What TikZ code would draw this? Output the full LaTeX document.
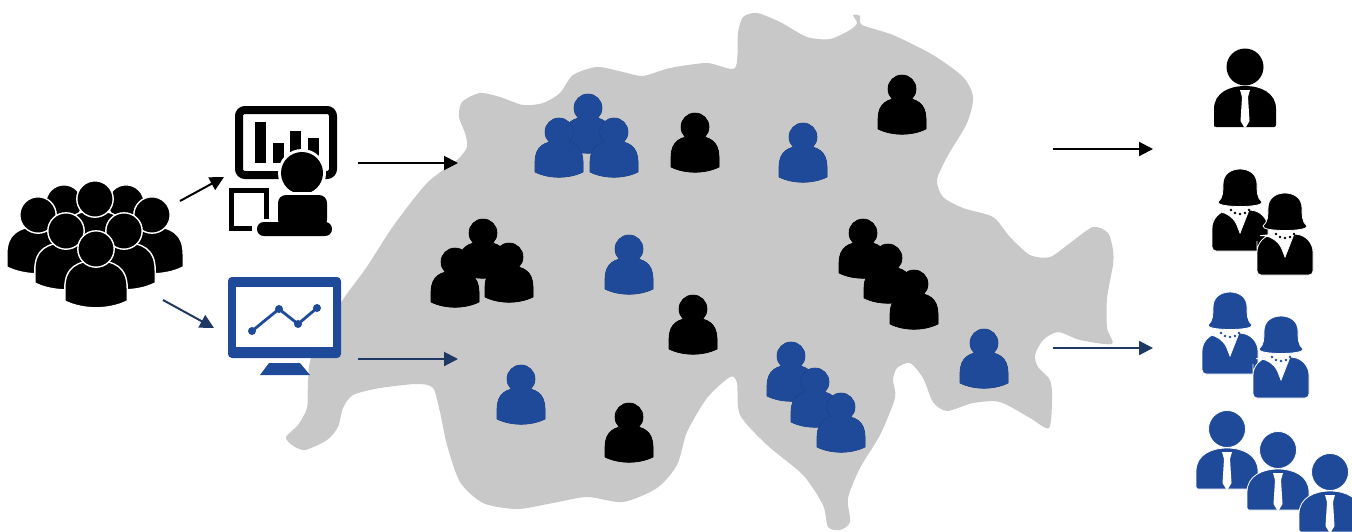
\documentclass[tikz,border=0pt]{standalone}
\usepackage{tikz}
\usepackage{xcolor}
\usetikzlibrary{arrows.meta}

\definecolor{mapgrey}{HTML}{C8C8C8}
\definecolor{iconblue}{HTML}{1F4A99}
\definecolor{edgeblue}{HTML}{173A7C}
\definecolor{navy}{HTML}{1F3864}

\newcommand{\personpath}[1]{
    \path[#1] (-24,40) -- (-24,30) .. controls (-24,14) and (-14,9) .. (0,9)
        .. controls (14,9) and (24,14) .. (24,30) -- (24,40)
        .. controls (10,47) and (-10,47) .. cycle;
    \path[#1] (0,0) circle (14);
}

\tikzset{
    blackicon/.style={fill=black, draw=black, line width=0.3pt},
    blueicon/.style={fill=iconblue, draw=edgeblue, line width=0.3pt},
    crowdicon/.style={fill=black, draw=white, line width=0.7pt, scale=1.3},
    flow/.style={-{Triangle[length=7pt,width=7pt]}, line width=1pt},
    person/.pic={
        \personpath{pic actions}
        \personpath{pic actions, draw=none}
    },
    crowdperson/.pic={
        \personpath{pic actions}
    },
    man/.pic={
        \path[pic actions] (-31,58) -- (-31,42) .. controls (-31,26) and (-16,19) .. (0,19)
            .. controls (16,19) and (31,26) .. (31,42) -- (31,58)
            [rounded corners=1pt] -- (31,60) -- (-31,60) -- cycle;
        \path[pic actions] (0,0) circle (18.5);
        \fill[white] (-5,23) -- (5,23) -- (3,30) -- (4.5,54) -- (1,60) -- (-1,60) -- (-4.5,54) -- (-3,30) -- cycle;
    },
    woman/.pic={
        \path[pic actions] (-28,80) [rounded corners=2pt] -- (-28,52) [rounded corners=8pt] -- (-28,43) -- (-9,41)
            [sharp corners] -- (0,64) -- (9,41) [rounded corners=8pt] -- (28,43) [rounded corners=2pt] -- (28,82) -- (-28,82) -- cycle;
        \path[pic actions] (-22,33) .. controls (-17,29) and (-17,22) .. (-17,15)
            .. controls (-17,5) and (-9,0) .. (0,0) .. controls (9,0) and (17,5) .. (17,15)
            .. controls (17,22) and (17,29) .. (22,33) .. controls (24,39) and (-24,39) .. cycle;
        \foreach \dotx/\doty in {-9/41, -5/44, 0/45, 5/44, 9/41}
            \path[pic actions, draw=none] (\dotx,\doty) circle (1.3);
    },
}

\begin{document}
\begin{tikzpicture}[x=0.5pt, y=-0.5pt]
    \useasboundingbox (0,0) rectangle (1352,531);

    % map
    \fill[mapgrey] plot[smooth cycle, tension=0.45] coordinates {
        (366,268) (394,225) (427,183) (457,160) (467,147) (465,133) (459,117) (462,102)
        (480,93) (500,97) (523,105) (543,103) (560,93) (573,75) (597,67) (623,72) (643,76)
        (670,68) (707,63) (735,68) (738,33) (743,17) (757,13) (780,22) (807,37) (830,39)
        (850,30) (857,23) (853,15) (860,16) (862,25) (893,35) (933,55) (963,77) (973,97)
        (967,123) (947,157) (937,180) (943,197) (963,208) (993,217) (1010,237) (1030,255)
        (1050,257) (1070,243) (1093,227) (1108,233) (1113,250) (1113,265) (1107,298) (1107,328)
        (1112,344) (1080,340) (1058,332) (1043,340) (1035,355) (1038,367) (1050,380) (1052,398)
        (1049,428) (1030,418) (1000,402) (973,403) (947,411) (933,402) (923,378) (910,363)
        (897,368) (893,380) (895,398) (880,435) (860,468) (848,498) (850,522) (840,530)
        (828,527) (823,505) (803,475) (767,445) (740,415) (737,383) (730,377) (707,398)
        (687,432) (677,465) (657,488) (623,502) (587,497) (553,503) (517,509) (483,503)
        (460,482) (447,445) (440,412) (433,388) (417,384) (380,388) (353,395) (343,408)
        (338,427) (327,440) (305,450) (292,445) (286,437) (298,425) (307,408) (308,382)
        (312,355) (340,304)
    };

    % crowd
    \foreach \px/\py in {64/203, 126/203, 38/215, 152/215, 95/199, 66/231, 124/231, 96/249}
        \pic[crowdicon] at (\px,\py) {crowdperson};

    % presenter
    \draw[line width=4pt, rounded corners=3pt] (239,175) rectangle (333,110);
    \foreach \barx/\bartop/\barbot in {255/122/163, 273/143/163, 290/131/157, 308/138/157}
        \fill (\barx,\bartop) rectangle ++(10.5,\barbot-\bartop);
    \draw[line width=2.5pt] (231.5,190.5) rectangle (266.5,228.5);
    \fill[white] (302,173) circle (24);
    \fill (302,173) circle (21);
    \fill[white] (252,219) rectangle (335,238);
    \fill[white] (274,192) rectangle (331,222);
    \fill[rounded corners=4pt] (278,195) rectangle (327,228);
    \fill[rounded corners=3.4pt] (257,222) rectangle (332,236);

    % monitor
    \fill[iconblue, rounded corners=2pt] (228,277) rectangle (341,358);
    \fill[white] (236,287) rectangle (333,347);
    \fill[iconblue] (269,363) -- (300,363) -- (310,375) -- (260,375) -- cycle;
    \draw[iconblue, line width=1.4pt] (252,331) -- (279,309) -- (298,324) -- (317,308);
    \foreach \cx/\cy in {252/331, 279/309, 298/324, 317/308}
        \fill[iconblue] (\cx,\cy) circle (4);

    % people on the map
    \pic[blueicon] at (588,108) {person};
    \pic[blueicon] at (559,132) {person};
    \pic[blueicon] at (614,132) {person};
    \pic[blackicon] at (695,127) {person};
    \pic[blueicon] at (803,137) {person};
    \pic[blackicon] at (902,89) {person};
    \pic[blackicon] at (483,233) {person};
    \pic[blackicon] at (509,257) {person};
    \pic[blackicon] at (455,262) {person};
    \pic[blueicon] at (629,249) {person};
    \pic[blackicon] at (693,309) {person};
    \pic[blueicon] at (521,379) {person};
    \pic[blackicon] at (629,417) {person};
    \pic[blackicon] at (863,233) {person};
    \pic[blackicon] at (888,258) {person};
    \pic[blackicon] at (914,284) {person};
    \pic[blueicon] at (791,356) {person};
    \pic[blueicon] at (815,382) {person};
    \pic[blueicon] at (841,407) {person};
    \pic[blueicon] at (984,343) {person};

    % right hand side
    \pic[fill=black] at (1245,67) {man};
    \pic[fill=black, draw=white, line width=0.4pt] at (1240,169) {woman};
    \pic[fill=black, draw=white, line width=0.4pt] at (1285,193) {woman};
    \pic[fill=iconblue, draw=white, line width=0.4pt] at (1230,292) {woman};
    \pic[fill=iconblue, draw=white, line width=0.4pt] at (1281,316) {woman};
    \pic[fill=iconblue, draw=white, line width=0.4pt] at (1227,429) {man};
    \pic[fill=iconblue, draw=white, line width=0.4pt] at (1278,450) {man};
    \pic[fill=iconblue, draw=white, line width=0.4pt] at (1330,472) {man};

    % arrows
    \coordinate (crowdtop) at (180,201);
    \coordinate (presenter) at (224,177);
    \coordinate (crowdlow) at (163,300);
    \coordinate (monitor) at (214,328);
    \coordinate (presout) at (358,163);
    \coordinate (mapin) at (458,163);
    \coordinate (monout) at (358,359);
    \coordinate (mapinlow) at (458,359);
    \coordinate (mapout) at (1053,149);
    \coordinate (blackgroup) at (1153,149);
    \coordinate (mapoutlow) at (1053,348);
    \coordinate (bluegroup) at (1153,348);

    \draw[flow] (crowdtop) -- (presenter);
    \draw[flow, navy] (crowdlow) -- (monitor);
    \draw[flow] (presout) -- (mapin);
    \draw[flow, navy] (monout) -- (mapinlow);
    \draw[flow] (mapout) -- (blackgroup);
    \draw[flow, navy] (mapoutlow) -- (bluegroup);
\end{tikzpicture}
\end{document}
